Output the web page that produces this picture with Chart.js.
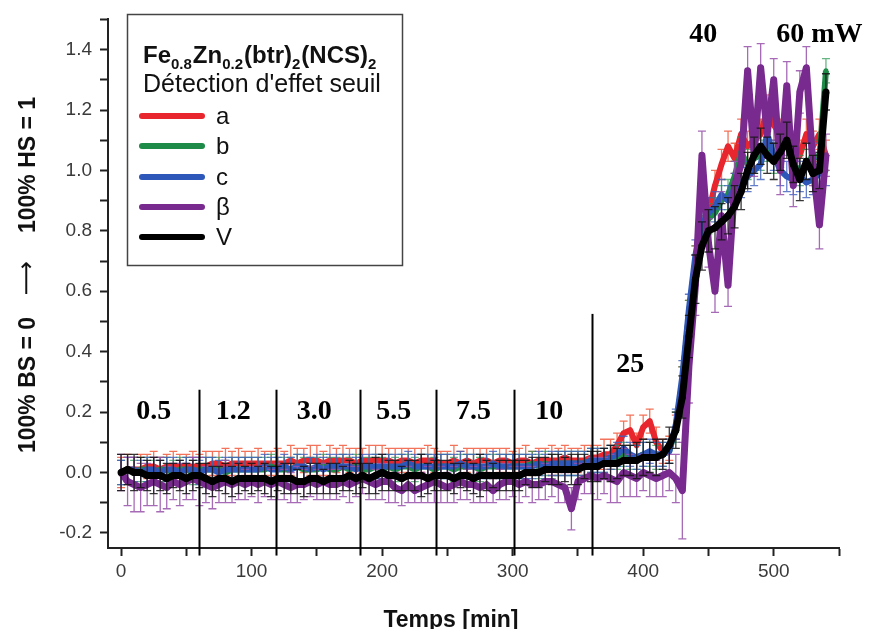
<!DOCTYPE html>
<html>
<head>
<meta charset="utf-8">
<script src="https://cdn.jsdelivr.net/npm/chart.js@4.4.1/dist/chart.umd.min.js"></script>
<style>
  html, body { margin: 0; padding: 0; background: #fff; }
  #wrap { position: relative; width: 869px; height: 629px; }
</style>
</head>
<body>
<div id="wrap"><canvas id="chart" width="869" height="629"></canvas></div>
<script>
// time axis in minutes, one reading every 5 min
const times = [
  0, 5, 10, 15, 20, 25, 30, 35, 40, 45,
  50, 55, 60, 65, 70, 75, 80, 85, 90, 95,
  100, 105, 110, 115, 120, 125, 130, 135, 140, 145,
  150, 155, 160, 165, 170, 175, 180, 185, 190, 195,
  200, 205, 210, 215, 220, 225, 230, 235, 240, 245,
  250, 255, 260, 265, 270, 275, 280, 285, 290, 295,
  300, 305, 310, 315, 320, 325, 330, 335, 340, 345,
  350, 355, 360, 365, 370, 375, 380, 385, 390, 395,
  400, 405, 410, 415, 420, 425, 430, 435, 440, 445,
  450, 455, 460, 465, 470, 475, 480, 485, 490, 495,
  500, 505, 510, 515, 520, 525, 530, 535, 540
];

const seriesA = [
  0.00, 0.01, 0.01, 0.01, 0.02, 0.02, 0.01, 0.02, 0.02, 0.02,
  0.02, 0.02, 0.02, 0.02, 0.03, 0.03, 0.02, 0.03, 0.03, 0.03,
  0.03, 0.03, 0.03, 0.03, 0.03, 0.03, 0.04, 0.03, 0.04, 0.04,
  0.04, 0.03, 0.04, 0.04, 0.04, 0.04, 0.03, 0.04, 0.04, 0.04,
  0.04, 0.04, 0.03, 0.04, 0.04, 0.03, 0.04, 0.04, 0.04, 0.03,
  0.03, 0.04, 0.03, 0.04, 0.03, 0.04, 0.04, 0.03, 0.04, 0.04,
  0.03, 0.04, 0.04, 0.03, 0.04, 0.04, 0.04, 0.04, 0.05, 0.04,
  0.04, 0.04, 0.05, 0.05, 0.06, 0.06, 0.09, 0.13, 0.14, 0.09,
  0.15, 0.17, 0.10, 0.07, 0.08, 0.15, 0.30, 0.52, 0.70, 0.80,
  0.86, 0.95, 1.02, 1.08, 1.04, 1.12, 1.08, 1.10, 1.12, 1.20,
  1.15, 1.12, 1.14, 1.08, 1.05, 1.12, 1.08, 1.12, 1.05
];
const errA = [
  0.05, 0.05, 0.04, 0.05, 0.04, 0.05, 0.04, 0.04, 0.05, 0.04,
  0.04, 0.05, 0.04, 0.05, 0.04, 0.04, 0.06, 0.04, 0.05, 0.04,
  0.04, 0.05, 0.04, 0.04, 0.05, 0.04, 0.05, 0.05, 0.04, 0.05,
  0.05, 0.04, 0.05, 0.04, 0.05, 0.04, 0.05, 0.04, 0.05, 0.05,
  0.05, 0.04, 0.05, 0.04, 0.04, 0.05, 0.04, 0.05, 0.04, 0.04,
  0.04, 0.05, 0.04, 0.04, 0.05, 0.04, 0.04, 0.05, 0.04, 0.04,
  0.04, 0.04, 0.05, 0.04, 0.04, 0.04, 0.05, 0.04, 0.04, 0.04,
  0.04, 0.05, 0.04, 0.04, 0.05, 0.05, 0.04, 0.04, 0.05, 0.04,
  0.04, 0.04, 0.05, 0.04, 0.04, 0.04, 0.05, 0.05, 0.05, 0.05,
  0.05, 0.05, 0.05, 0.05, 0.05, 0.05, 0.05, 0.05, 0.05, 0.05,
  0.05, 0.05, 0.05, 0.05, 0.05, 0.05, 0.05, 0.05, 0.05
];

const seriesB = [
  0.00, 0.01, 0.00, 0.01, 0.01, 0.00, 0.01, 0.01, 0.00, 0.01,
  0.01, 0.00, 0.01, 0.01, 0.01, 0.01, 0.00, 0.01, 0.01, 0.01,
  0.01, 0.01, 0.01, 0.02, 0.01, 0.01, 0.01, 0.02, 0.01, 0.01,
  0.01, 0.02, 0.01, 0.01, 0.02, 0.01, 0.02, 0.01, 0.01, 0.02,
  0.01, 0.02, 0.01, 0.02, 0.02, 0.01, 0.02, 0.02, 0.01, 0.02,
  0.02, 0.01, 0.02, 0.02, 0.02, 0.01, 0.02, 0.02, 0.02, 0.02,
  0.02, 0.02, 0.02, 0.03, 0.02, 0.03, 0.02, 0.03, 0.03, 0.03,
  0.03, 0.03, 0.04, 0.04, 0.04, 0.05, 0.05, 0.06, 0.05, 0.05,
  0.06, 0.06, 0.05, 0.06, 0.07, 0.15, 0.30, 0.52, 0.70, 0.80,
  0.84, 0.86, 0.90, 0.92, 0.98, 1.06, 1.02, 1.04, 1.05, 1.08,
  1.04, 1.06, 1.10, 1.02, 1.00, 1.02, 1.05, 1.04, 1.33
];
const errB = [
  0.04, 0.04, 0.04, 0.04, 0.04, 0.04, 0.04, 0.04, 0.04, 0.04,
  0.04, 0.04, 0.04, 0.04, 0.04, 0.04, 0.04, 0.04, 0.04, 0.04,
  0.04, 0.04, 0.04, 0.04, 0.04, 0.04, 0.04, 0.04, 0.04, 0.04,
  0.04, 0.04, 0.04, 0.04, 0.04, 0.04, 0.04, 0.04, 0.04, 0.04,
  0.04, 0.04, 0.04, 0.04, 0.04, 0.04, 0.04, 0.04, 0.04, 0.04,
  0.04, 0.04, 0.04, 0.04, 0.04, 0.04, 0.04, 0.04, 0.04, 0.04,
  0.04, 0.04, 0.04, 0.04, 0.04, 0.04, 0.04, 0.04, 0.04, 0.04,
  0.04, 0.04, 0.04, 0.04, 0.04, 0.04, 0.04, 0.04, 0.04, 0.04,
  0.04, 0.04, 0.04, 0.04, 0.04, 0.05, 0.05, 0.05, 0.05, 0.05,
  0.05, 0.05, 0.05, 0.05, 0.05, 0.05, 0.05, 0.05, 0.05, 0.05,
  0.05, 0.05, 0.05, 0.05, 0.05, 0.05, 0.05, 0.05, 0.04
];

const seriesC = [
  0.00, 0.01, 0.01, 0.00, 0.01, 0.01, 0.00, 0.01, 0.01, 0.00,
  0.01, 0.01, 0.00, 0.01, 0.01, 0.00, 0.01, 0.01, 0.01, 0.01,
  0.01, 0.01, 0.02, 0.01, 0.01, 0.02, 0.01, 0.02, 0.02, 0.01,
  0.02, 0.01, 0.02, 0.02, 0.02, 0.02, 0.01, 0.02, 0.02, 0.02,
  0.02, 0.02, 0.02, 0.02, 0.03, 0.02, 0.02, 0.02, 0.02, 0.02,
  0.02, 0.02, 0.03, 0.02, 0.02, 0.02, 0.02, 0.03, 0.02, 0.02,
  0.02, 0.02, 0.02, 0.02, 0.03, 0.02, 0.03, 0.03, 0.03, 0.03,
  0.03, 0.03, 0.04, 0.04, 0.04, 0.05, 0.06, 0.08, 0.06, 0.05,
  0.06, 0.07, 0.06, 0.06, 0.07, 0.16, 0.32, 0.54, 0.72, 0.82,
  0.86, 0.88, 0.92, 0.90, 0.94, 0.96, 0.98, 1.00, 1.02, 1.12,
  1.05, 1.00, 0.98, 0.97, 0.98, 0.96, 0.97, 0.99, 1.00
];
const errC = [
  0.04, 0.04, 0.04, 0.04, 0.04, 0.04, 0.04, 0.04, 0.04, 0.04,
  0.04, 0.04, 0.04, 0.04, 0.04, 0.04, 0.04, 0.04, 0.04, 0.04,
  0.04, 0.04, 0.04, 0.04, 0.04, 0.04, 0.04, 0.04, 0.04, 0.04,
  0.04, 0.04, 0.04, 0.04, 0.04, 0.04, 0.04, 0.04, 0.04, 0.04,
  0.04, 0.04, 0.04, 0.04, 0.04, 0.04, 0.04, 0.04, 0.04, 0.04,
  0.04, 0.04, 0.04, 0.04, 0.04, 0.04, 0.04, 0.04, 0.04, 0.04,
  0.04, 0.04, 0.04, 0.04, 0.04, 0.04, 0.04, 0.04, 0.04, 0.04,
  0.04, 0.04, 0.04, 0.04, 0.04, 0.04, 0.04, 0.04, 0.04, 0.04,
  0.04, 0.04, 0.04, 0.04, 0.04, 0.05, 0.05, 0.05, 0.05, 0.05,
  0.05, 0.05, 0.05, 0.05, 0.05, 0.05, 0.05, 0.05, 0.05, 0.05,
  0.05, 0.05, 0.05, 0.05, 0.05, 0.05, 0.05, 0.05, 0.05
];

const seriesBeta = [
  0.00, -0.03, -0.04, -0.05, -0.04, -0.03, -0.04, -0.05, -0.03, -0.04,
  -0.03, -0.02, -0.03, -0.04, -0.05, -0.04, -0.03, -0.04, -0.03, -0.04,
  -0.03, -0.04, -0.03, -0.04, -0.03, -0.04, -0.05, -0.04, -0.04, -0.03,
  -0.04, -0.03, -0.04, -0.04, -0.03, -0.04, -0.03, -0.02, -0.03, -0.04,
  -0.03, -0.03, -0.05, -0.06, -0.04, -0.06, -0.05, -0.04, -0.03, -0.04,
  -0.05, -0.04, -0.03, -0.04, -0.04, -0.05, -0.04, -0.06, -0.04, -0.03,
  -0.03, -0.04, -0.03, -0.04, -0.04, -0.03, -0.03, -0.04, -0.05, -0.12,
  -0.03, -0.02, -0.01, -0.02, -0.01, -0.02, -0.03, 0.00, -0.01, -0.02,
  0.00, -0.01, -0.02, -0.01, 0.00, -0.02, -0.06, 0.35, 0.62, 1.05,
  0.76, 0.60, 0.85, 0.62, 0.95, 1.02, 1.33, 1.05, 1.34, 1.12,
  1.30, 1.00, 1.28, 0.95, 1.26, 1.34, 1.02, 0.82, 1.05
];
const errBeta = [
  0.06, 0.08, 0.09, 0.08, 0.07, 0.08, 0.09, 0.07, 0.06, 0.07,
  0.06, 0.07, 0.08, 0.06, 0.07, 0.06, 0.07, 0.06, 0.06, 0.05,
  0.05, 0.06, 0.05, 0.05, 0.06, 0.05, 0.05, 0.06, 0.05, 0.05,
  0.05, 0.06, 0.05, 0.05, 0.05, 0.06, 0.05, 0.05, 0.06, 0.05,
  0.06, 0.07, 0.05, 0.05, 0.06, 0.04, 0.05, 0.06, 0.07, 0.06,
  0.05, 0.06, 0.06, 0.05, 0.06, 0.05, 0.06, 0.04, 0.05, 0.06,
  0.05, 0.06, 0.05, 0.06, 0.05, 0.06, 0.05, 0.06, 0.05, 0.07,
  0.06, 0.05, 0.06, 0.07, 0.06, 0.08, 0.07, 0.08, 0.07, 0.06,
  0.06, 0.07, 0.06, 0.07, 0.06, 0.08, 0.16, 0.12, 0.10, 0.08,
  0.08, 0.07, 0.08, 0.07, 0.08, 0.07, 0.08, 0.07, 0.08, 0.08,
  0.07, 0.08, 0.08, 0.07, 0.07, 0.07, 0.07, 0.08, 0.07
];

const seriesV = [
  0.00, 0.01, 0.00, 0.00, -0.01, -0.01, -0.01, -0.02, -0.01, -0.01,
  -0.02, -0.01, -0.01, -0.02, -0.03, -0.02, -0.02, -0.03, -0.02, -0.02,
  -0.02, -0.02, -0.02, -0.03, -0.02, -0.02, -0.02, -0.03, -0.03, -0.02,
  -0.02, -0.03, -0.02, -0.02, -0.02, -0.01, -0.02, -0.01, -0.02, -0.01,
  0.00, -0.01, -0.01, -0.02, -0.01, -0.01, -0.01, -0.02, -0.01, -0.01,
  -0.01, -0.02, -0.01, -0.01, -0.02, -0.01, -0.01, -0.01, -0.01, -0.01,
  -0.01, -0.01, 0.00, 0.00, 0.00, 0.01, 0.01, 0.01, 0.01, 0.01,
  0.01, 0.02, 0.02, 0.02, 0.03, 0.03, 0.03, 0.04, 0.04, 0.04,
  0.05, 0.05, 0.05, 0.06, 0.09, 0.14, 0.25, 0.45, 0.64, 0.75,
  0.80, 0.81, 0.83, 0.85, 0.88, 0.93, 1.00, 1.05, 1.08, 1.05,
  1.03, 1.06, 1.10, 1.02, 0.97, 1.03, 0.99, 1.00, 1.26
];
const errV = [
  0.06, 0.05, 0.06, 0.05, 0.05, 0.06, 0.05, 0.05, 0.04, 0.05,
  0.05, 0.05, 0.04, 0.05, 0.05, 0.04, 0.05, 0.05, 0.05, 0.04,
  0.05, 0.04, 0.05, 0.05, 0.04, 0.05, 0.05, 0.04, 0.05, 0.05,
  0.05, 0.04, 0.05, 0.05, 0.04, 0.05, 0.05, 0.04, 0.05, 0.06,
  0.06, 0.05, 0.05, 0.04, 0.05, 0.05, 0.07, 0.05, 0.05, 0.05,
  0.05, 0.05, 0.04, 0.05, 0.05, 0.07, 0.05, 0.04, 0.05, 0.05,
  0.05, 0.05, 0.04, 0.05, 0.05, 0.04, 0.05, 0.05, 0.04, 0.05,
  0.05, 0.04, 0.05, 0.05, 0.05, 0.06, 0.05, 0.05, 0.05, 0.06,
  0.06, 0.05, 0.06, 0.05, 0.06, 0.06, 0.07, 0.07, 0.08, 0.08,
  0.07, 0.07, 0.06, 0.06, 0.07, 0.06, 0.06, 0.06, 0.06, 0.06,
  0.06, 0.06, 0.06, 0.06, 0.07, 0.06, 0.06, 0.06, 0.06
];

const xTickValues = [0, 50, 100, 150, 200, 250, 300, 350, 400, 450, 500, 550];
const xLabelValues = [0, 100, 200, 300, 400, 500];
const yTickValues = [-0.2, -0.1, 0, 0.1, 0.2, 0.3, 0.4, 0.5, 0.6, 0.7, 0.8, 0.9, 1.0, 1.1, 1.2, 1.3, 1.4, 1.5];
const yLabelValues = [-0.2, 0, 0.2, 0.4, 0.6, 0.8, 1.0, 1.2, 1.4];

// laser power steps (mW) and where they were written
const powerLabels = ['0.5', '1.2', '3.0', '5.5', '7.5', '10', '25', '40', '60 mW'];
const powerLabelX = [25, 86, 148, 209, 270, 328, 390, 446, 535];
const powerLabelY = [0.2, 0.2, 0.2, 0.2, 0.2, 0.2, 0.355, 1.45, 1.45];
const stepTimes = [60, 119, 183, 241, 301, 361];
const stepTops = [0.274, 0.274, 0.274, 0.274, 0.274, 0.525];

const legendLabels = ['a', 'b', 'c', 'β', 'V'];
const legendTitle = [['Fe', 0], ['0.8', 1], ['Zn', 0], ['0.2', 1], ['(btr)', 0], ['2', 1], ['(NCS)', 0], ['2', 1]];
const legendSubtitle = "Détection d'effet seuil";

const SANS = '"Liberation Sans", Arial, Helvetica, sans-serif';
const SERIF = '"Liberation Serif", "Times New Roman", serif';

function points(values) {
  return values.map((v, i) => ({ x: times[i], y: v }));
}

function near(list, v) {
  return list.some((t) => Math.abs(t - v) < 1e-6);
}

const errorBarPlugin = {
  id: 'errorBars',
  beforeDatasetDraw(chart, args) {
    const ds = chart.data.datasets[args.index];
    if (!ds.errors) return;
    const { ctx, chartArea, scales } = chart;
    const x = scales.x;
    const y = scales.y;
    ctx.save();
    ctx.beginPath();
    ctx.rect(chartArea.left, chartArea.top, chartArea.right - chartArea.left, chartArea.bottom - chartArea.top);
    ctx.clip();
    ctx.strokeStyle = ds.errorColor;
    ctx.lineWidth = 1.3;
    ctx.beginPath();
    ds.data.forEach((p, i) => {
      const e = ds.errors[i];
      const px = x.getPixelForValue(p.x);
      const top = y.getPixelForValue(p.y + e);
      const bot = y.getPixelForValue(p.y - e);
      ctx.moveTo(px, top); ctx.lineTo(px, bot);
      ctx.moveTo(px - 4, top); ctx.lineTo(px + 4, top);
      ctx.moveTo(px - 4, bot); ctx.lineTo(px + 4, bot);
    });
    ctx.stroke();
    ctx.restore();
  }
};

const decorPlugin = {
  id: 'decor',
  afterDatasetsDraw(chart) {
    const { ctx, scales } = chart;
    const x = scales.x;
    const y = scales.y;
    ctx.save();
    ctx.strokeStyle = '#000';
    ctx.lineWidth = 2;
    stepTimes.forEach((t, i) => {
      const px = Math.round(x.getPixelForValue(t)) + 0.5;
      ctx.beginPath();
      ctx.moveTo(px, y.getPixelForValue(stepTops[i]));
      ctx.lineTo(px, y.getPixelForValue(-0.275));
      ctx.stroke();
    });
    ctx.fillStyle = '#000';
    ctx.font = 'bold 28px ' + SERIF;
    ctx.textAlign = 'center';
    ctx.textBaseline = 'middle';
    powerLabels.forEach((txt, i) => {
      ctx.fillText(txt, x.getPixelForValue(powerLabelX[i]), y.getPixelForValue(powerLabelY[i]));
    });
    ctx.restore();
  },
  afterDraw(chart) {
    const { ctx } = chart;
    ctx.save();

    // legend box
    ctx.fillStyle = '#fff';
    ctx.fillRect(127, 14, 275, 251);
    ctx.strokeStyle = '#444';
    ctx.lineWidth = 1.5;
    ctx.strokeRect(127.5, 14.5, 275, 251);

    ctx.fillStyle = '#111';
    ctx.textAlign = 'left';
    ctx.textBaseline = 'alphabetic';
    let cx = 143;
    legendTitle.forEach(([txt, sub]) => {
      ctx.font = sub ? 'bold 15px ' + SANS : 'bold 24px ' + SANS;
      ctx.fillText(txt, cx, sub ? 69 : 63);
      cx += ctx.measureText(txt).width + (sub ? 1 : 0);
    });
    ctx.font = '25px ' + SANS;
    ctx.fillText(legendSubtitle, 143, 92);

    const rowY = [116, 146, 177, 207, 237];
    ctx.lineCap = 'round';
    ctx.textBaseline = 'middle';
    legendLabels.forEach((lab, i) => {
      const ds = chart.data.datasets.find((d) => d.label === lab);
      ctx.strokeStyle = ds.borderColor;
      ctx.lineWidth = 6;
      ctx.beginPath();
      ctx.moveTo(142, rowY[i]);
      ctx.lineTo(202, rowY[i]);
      ctx.stroke();
      ctx.fillStyle = '#111';
      ctx.font = '24px ' + SANS;
      ctx.fillText(lab, 216, rowY[i] + 1);
    });

    // axis titles
    ctx.fillStyle = '#111';
    ctx.textAlign = 'center';
    ctx.textBaseline = 'alphabetic';
    ctx.font = 'bold 23px ' + SANS;
    ctx.fillText('Temps [min]', 451, 627);

    ctx.save();
    ctx.translate(35, 0);
    ctx.rotate(-Math.PI / 2);
    ctx.textBaseline = 'alphabetic';
    ctx.font = 'bold 23px ' + SANS;
    ctx.fillText('100% BS = 0', -385, 0);
    ctx.fillText('100% HS = 1', -165, 0);
    ctx.font = '24px "DejaVu Sans", sans-serif';
    ctx.fillText('⟶', -278, -1);
    ctx.restore();

    ctx.restore();
  }
};

const datasets = [
  { label: 'V', values: seriesV, errors: errV, color: '#000000', errorColor: 'rgba(20,20,20,0.85)', width: 7, radius: 3.5, order: 1 },
  { label: 'β', values: seriesBeta, errors: errBeta, color: '#782a8e', errorColor: 'rgba(150,80,170,0.85)', width: 7, radius: 3, order: 2 },
  { label: 'c', values: seriesC, errors: errC, color: '#2d57b8', errorColor: 'rgba(60,95,190,0.8)', width: 6, radius: 2.5, order: 3 },
  { label: 'b', values: seriesB, errors: errB, color: '#1e8b48', errorColor: 'rgba(40,150,80,0.7)', width: 6, radius: 2.5, order: 4 },
  { label: 'a', values: seriesA, errors: errA, color: '#e8262d', errorColor: 'rgba(240,90,60,0.85)', width: 6, radius: 2.5, order: 5 }
].map((s) => ({
  label: s.label,
  data: points(s.values),
  errors: s.errors,
  errorColor: s.errorColor,
  borderColor: s.color,
  backgroundColor: s.color,
  borderWidth: s.width,
  borderJoinStyle: 'round',
  pointRadius: s.radius,
  pointBorderWidth: 0,
  pointBackgroundColor: s.color,
  tension: 0,
  order: s.order
}));

new Chart(document.getElementById('chart').getContext('2d'), {
  type: 'line',
  data: { datasets },
  options: {
    responsive: false,
    devicePixelRatio: 1,
    animation: false,
    layout: { padding: { top: 15, right: 30, left: 0, bottom: 0 } },
    plugins: {
      legend: { display: false },
      tooltip: { enabled: false }
    },
    scales: {
      x: {
        type: 'linear',
        min: -10,
        max: 550,
        afterBuildTicks(scale) { scale.ticks = xTickValues.map((v) => ({ value: v })); },
        afterFit(scale) { scale.height = 81; },
        ticks: {
          autoSkip: false,
          maxRotation: 0,
          padding: 4,
          color: '#3a3a3a',
          font: { family: SANS, size: 19 },
          callback(value) { return near(xLabelValues, value) ? String(value) : ''; }
        },
        grid: { drawOnChartArea: false, drawTicks: true, tickLength: 8, tickWidth: 2, tickColor: '#222' },
        border: { color: '#222', width: 2 }
      },
      y: {
        type: 'linear',
        min: -0.25,
        max: 1.5,
        afterBuildTicks(scale) { scale.ticks = yTickValues.map((v) => ({ value: v })); },
        afterFit(scale) { scale.width = 108; },
        ticks: {
          autoSkip: false,
          padding: 8,
          color: '#3a3a3a',
          font: { family: SANS, size: 19 },
          callback(value) { return near(yLabelValues, value) ? Number(value).toFixed(1) : ''; }
        },
        grid: { drawOnChartArea: false, drawTicks: true, tickLength: 8, tickWidth: 2, tickColor: '#222' },
        border: { color: '#222', width: 2 }
      }
    }
  },
  plugins: [errorBarPlugin, decorPlugin]
});
</script>
</body>
</html>
